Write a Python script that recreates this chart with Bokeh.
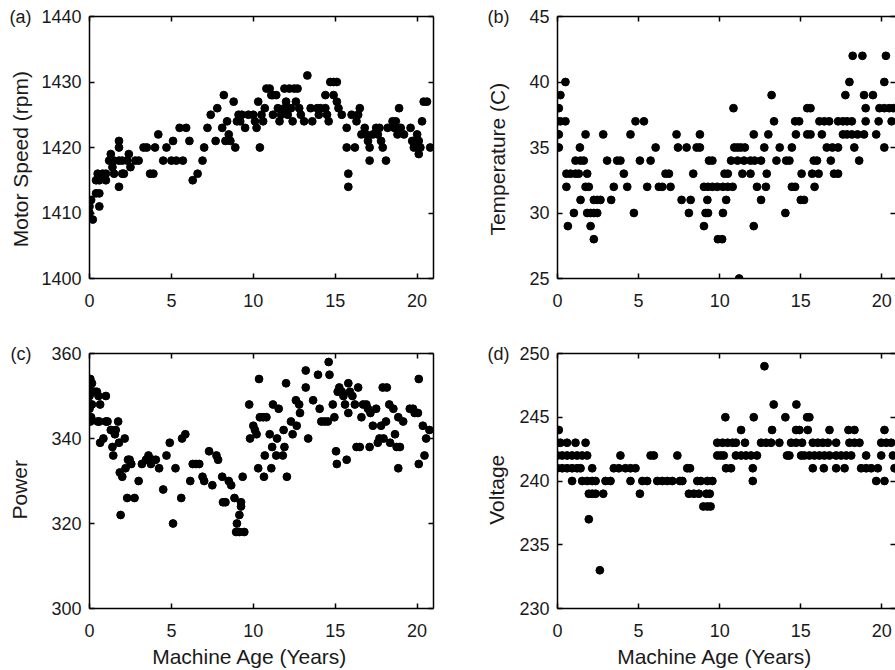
from bokeh.plotting import figure
from bokeh.models import LinearAxis, FixedTicker, ColumnDataSource, Range1d
from bokeh.layouts import column, row
from bokeh.embed import file_html
from bokeh.resources import INLINE

# ---------------- data ----------------
x_ticks = [0, 5, 10, 15, 20]
x_label = "Machine Age (Years)"

# (a) Motor speed
age_a = [0.0, 0.0, 0.1, 0.2, 0.4, 0.6, 0.6, 0.4, 0.6, 0.5, 0.8, 1.0, 1.0, 1.2, 1.5, 1.3, 1.4, 1.5,
         1.8, 1.8, 1.8, 1.8, 2.0, 2.0, 2.1, 2.3, 2.4, 2.5, 2.8, 3.0, 3.3, 3.5, 3.7, 3.9, 4.0, 4.2,
         4.5, 4.7, 5.0, 5.1, 5.3, 5.5, 5.7, 5.9, 6.1, 6.3, 6.6, 6.9, 7.0, 7.2, 7.4, 7.7, 7.8, 8.1,
         8.2, 8.3, 8.4, 8.5, 8.6, 8.8, 8.9, 9.0, 9.1, 9.2, 9.3, 9.5, 9.7, 10.0, 10.1, 10.2, 10.3,
         10.4, 10.5, 10.6, 10.7, 10.8, 11.0, 11.1, 11.2, 11.4, 11.2, 11.5, 11.6, 11.7, 11.9, 11.9,
         12.0, 12.1, 12.2, 12.3, 12.4, 12.5, 12.6, 12.7, 12.8, 12.9, 13.1, 13.3, 13.5, 13.6, 13.9,
         14.0, 14.1, 14.4, 14.4, 14.5, 14.6, 14.7, 14.9, 15.1, 14.9, 15.1, 15.2, 15.4, 15.7, 15.7,
         15.8, 15.8, 16.0, 16.2, 16.3, 16.4, 16.5, 16.6, 16.8, 16.9, 17.0, 17.1, 17.1, 17.3, 17.5,
         17.6, 17.7, 17.8, 17.9, 18.1, 18.2, 18.5, 18.6, 18.7, 18.8, 18.9, 19.0, 19.2, 19.6, 19.7,
         19.8, 20.0, 20.1, 20.1, 20.2, 20.3, 20.4, 20.6, 20.8]
speed_a = [1410, 1411, 1412, 1409, 1413, 1413, 1411, 1415, 1415, 1416, 1416, 1415, 1416, 1418, 1418,
           1419, 1417, 1416, 1421, 1420, 1418, 1414, 1418, 1416, 1416, 1418, 1419, 1417, 1418, 1418,
           1420, 1420, 1416, 1416, 1420, 1422, 1418, 1420, 1418, 1421, 1418, 1423, 1418, 1423, 1421,
           1415, 1416, 1418, 1420, 1423, 1425, 1421, 1426, 1423, 1428, 1421, 1424, 1422, 1421, 1427,
           1420, 1424, 1425, 1424, 1425, 1423, 1425, 1425, 1424, 1423, 1427, 1420, 1425, 1424, 1426,
           1429, 1429, 1428, 1428, 1428, 1425, 1426, 1424, 1425, 1426, 1429, 1427, 1425, 1429, 1426,
           1424, 1429, 1427, 1429, 1426, 1425, 1424, 1431, 1426, 1424, 1426, 1425, 1426, 1428, 1426,
           1425, 1424, 1430, 1430, 1430, 1428, 1427, 1426, 1425, 1423, 1420, 1416, 1414, 1425, 1420,
           1424, 1425, 1426, 1422, 1423, 1422, 1421, 1420, 1418, 1422, 1423, 1422, 1423, 1421, 1420,
           1418, 1423, 1424, 1423, 1424, 1422, 1426, 1423, 1422, 1423, 1421, 1420, 1422, 1421, 1419,
           1420, 1424, 1427, 1427, 1420]

# (b) Temperature
age_b = [0.49, 18.0, 20.15,
         18.2, 18.8, 20.25,
         0.18, 13.2, 17.75, 18.9, 19.45,
         0.08, 10.85, 15.4, 15.6, 19.0, 19.85, 20.15, 20.45, 20.7,
         0.0, 0.18, 0.49, 4.81, 5.33, 13.35, 14.65, 14.9, 16.15, 16.45, 16.75, 17.3, 17.6, 17.85,
         18.15, 19.0, 19.8, 20.6,
         0.0, 0.08, 1.73, 2.82, 4.5, 7.34, 8.78, 12.1, 13.0, 14.7, 15.4, 15.6, 16.3, 17.6, 17.85,
         18.15, 18.5, 18.9, 19.65,
         0.08, 1.38, 6.05, 7.43, 7.96, 8.58, 8.78, 10.9, 11.1, 11.3, 11.55, 12.75, 13.7, 14.45,
         16.6, 16.95, 17.3, 18.3, 20.15,
         1.11, 1.42, 1.62, 3.06, 3.68, 3.88, 5.08, 5.74, 9.34, 9.55, 10.7, 11.1, 11.5, 11.9, 12.15,
         12.55, 13.5, 14.1, 14.3, 15.8, 16.0, 16.85, 18.6,
         0.55, 0.8, 1.11, 1.31, 1.83, 4.09, 6.66, 6.87, 8.37, 10.3, 10.5, 11.4, 11.9, 12.9, 15.05,
         15.7, 16.1, 17.05, 17.3,
         0.55, 1.73, 1.93, 3.47, 4.3, 5.53, 6.25, 6.46, 6.97, 9.03, 9.28, 9.55, 9.85, 10.2, 10.5,
         10.8, 12.3, 12.85, 14.45, 14.65, 15.85,
         1.42, 2.24, 2.45, 2.65, 3.31, 7.65, 8.21, 9.24, 10.4, 12.55, 15.0, 15.2,
         1.01, 1.83, 2.04, 2.24, 2.45, 4.71, 8.1, 9.13, 9.28, 10.2, 14.05,
         0.64, 2.04, 9.03, 12.1,
         2.24, 9.89, 10.15,
         11.2]
temp_b = [40, 40, 40,
          42, 42, 42,
          39, 39, 39, 39, 39,
          38, 38, 38, 38, 38, 38, 38, 38, 38,
          37, 37, 37, 37, 37, 37, 37, 37, 37, 37, 37, 37, 37, 37,
          37, 37, 37, 37,
          36, 36, 36, 36, 36, 36, 36, 36, 36, 36, 36, 36, 36, 36, 36,
          36, 36, 36, 36,
          35, 35, 35, 35, 35, 35, 35, 35, 35, 35, 35, 35, 35, 35,
          35, 35, 35, 35, 35,
          34, 34, 34, 34, 34, 34, 34, 34, 34, 34, 34, 34, 34, 34, 34,
          34, 34, 34, 34, 34, 34, 34, 34,
          33, 33, 33, 33, 33, 33, 33, 33, 33, 33, 33, 33, 33, 33, 33,
          33, 33, 33, 33,
          32, 32, 32, 32, 32, 32, 32, 32, 32, 32, 32, 32, 32, 32, 32,
          32, 32, 32, 32, 32, 32,
          31, 31, 31, 31, 31, 31, 31, 31, 31, 31, 31, 31,
          30, 30, 30, 30, 30, 30, 30, 30, 30, 30, 30,
          29, 29, 29, 29,
          28, 28, 28,
          25]

# (c) Power
age_c = [0.0, 0.05, 0.15, 0.0, 0.0, 0.0, 0.0, 0.1, 0.05, 0.15, 0.3, 0.45, 0.5, 0.6, 0.65, 0.55, 1.0,
         0.65, 0.85, 1.0, 1.1, 1.3, 1.4, 1.45, 1.55, 1.6, 1.75, 1.8, 1.85, 1.9, 2.0, 2.15, 2.2, 2.3,
         2.35, 2.45, 2.55, 2.75, 3.0, 3.2, 3.45, 3.6, 3.75, 3.85, 4.05, 4.25, 4.5, 4.7, 4.9, 5.1,
         5.25, 5.6, 5.65, 5.85, 6.15, 6.3, 6.5, 6.7, 6.9, 7.0, 7.3, 7.5, 7.75, 7.85, 8.1, 8.15, 8.3,
         8.5, 8.65, 8.85, 9.0, 8.95, 9.15, 9.25, 9.25, 9.15, 9.35, 9.45, 9.75, 9.8, 10.0, 10.1, 10.2,
         10.3, 10.35, 10.4, 10.6, 10.7, 10.65, 10.8, 11.0, 11.1, 11.15, 11.2, 11.4, 11.45, 11.55,
         11.8, 11.85, 11.9, 12.0, 12.05, 12.3, 12.4, 12.6, 12.65, 12.8, 12.85, 13.2, 13.2, 13.35,
         13.65, 13.95, 14.05, 14.15, 14.35, 14.55, 14.6, 14.65, 14.85, 14.95, 15.05, 15.1, 15.15,
         15.25, 15.4, 15.5, 15.6, 15.7, 15.8, 15.8, 15.9, 16.05, 16.2, 16.3, 16.4, 16.5, 16.6, 16.7,
         16.9, 17.0, 17.1, 17.15, 17.3, 17.5, 17.6, 17.7, 17.8, 17.9, 17.95, 18.1, 18.15, 18.3,
         18.35, 18.55, 18.65, 18.75, 18.85, 18.85, 18.95, 19.15, 19.55, 19.75, 19.85, 20.05, 20.1,
         20.1, 20.35, 20.45, 20.55, 20.75]
power_c = [352, 354, 353, 350, 348, 347, 345, 345, 344, 348, 351, 351, 344, 344, 348, 350, 350,
           339, 340, 344, 344, 342, 338, 336, 341, 342, 344, 339, 332, 322, 331, 340, 333, 326,
           335, 335, 334, 326, 330, 334, 335, 336, 334, 335, 335, 333, 328, 336, 339, 320,
           333, 326, 340, 341, 330, 334, 334, 334, 331, 330, 337, 329, 336, 335, 331, 325, 325,
           330, 329, 326, 320, 318, 318, 324, 325, 322, 331, 318, 348, 340, 343, 342, 341,
           333, 354, 345, 345, 336, 331, 345, 341, 333, 338, 348, 336, 340, 347,
           336, 342, 338, 353, 331, 344, 341, 349, 343, 348, 346, 356, 352, 340,
           349, 355, 347, 344, 344, 344, 358, 355, 348, 345, 337, 334, 351,
           352, 351, 350, 348, 335, 353, 346, 351, 350, 348, 338, 352, 338, 345, 348,
           348, 347, 338, 346, 343, 347, 339, 340, 343, 352, 340, 344, 352, 348,
           339, 347, 341, 338, 345, 333, 338, 344, 347, 347, 346, 346, 354,
           334, 343, 336, 340, 342]

# (d) Voltage
age_d = [12.76,
         13.33, 14.73,
         10.35, 12.1, 14.05, 15.39, 15.53,
         0.08, 11.32, 13.23, 14.71, 14.92, 15.43, 16.77, 17.94, 18.31, 20.16,
         0.0, 0.18, 0.59, 1.11, 1.73, 9.85, 10.18, 10.49, 10.8, 11.0, 11.56, 12.55, 12.86, 13.17,
         13.68, 14.4, 14.71, 15.08, 15.74, 16.05, 16.36, 16.67, 17.18, 18.0, 18.31, 18.62, 19.96,
         20.27, 20.58,
         0.0, 0.29, 0.59, 0.9, 1.21, 1.52, 1.83, 3.88, 5.74, 5.94, 7.39, 9.85, 10.06, 10.25, 11.0,
         11.32, 11.62, 11.93, 12.3, 14.15, 14.3, 15.02, 15.22, 15.53, 15.84, 16.15, 16.46, 16.77,
         17.18, 17.49, 17.8, 18.11, 19.03, 19.96, 20.68,
         0.0, 0.29, 0.59, 0.9, 1.21, 1.42, 2.14, 3.47, 3.78, 4.19, 4.5, 4.81, 8.0, 8.17, 10.39,
         10.7, 12.04, 15.74, 16.42, 17.18, 17.7, 18.72, 19.03, 19.34, 19.75, 20.78,
         0.9, 1.52, 1.83, 2.14, 2.35, 2.96, 3.27, 4.5, 5.23, 5.53, 6.15, 6.46, 6.77, 7.08, 7.55,
         7.7, 8.62, 8.83, 9.24, 9.55, 12.04, 19.65, 20.16,
         1.93, 2.14, 2.35, 2.82, 5.08, 8.1, 8.41, 8.72, 9.18, 9.39,
         8.99, 9.24, 9.44,
         1.93,
         2.61]
volt_d = [249,
          246, 246,
          245, 245, 245, 245, 245,
          244, 244, 244, 244, 244, 244, 244, 244, 244, 244,
          243, 243, 243, 243, 243, 243, 243, 243, 243, 243, 243, 243, 243, 243,
          243, 243, 243, 243, 243, 243, 243, 243, 243, 243, 243, 243, 243,
          243, 243,
          242, 242, 242, 242, 242, 242, 242, 242, 242, 242, 242, 242, 242, 242, 242,
          242, 242, 242, 242, 242, 242, 242, 242, 242, 242, 242, 242, 242,
          242, 242, 242, 242, 242, 242, 242,
          241, 241, 241, 241, 241, 241, 241, 241, 241, 241, 241, 241, 241, 241, 241,
          241, 241, 241, 241, 241, 241, 241, 241, 241, 241, 241,
          240, 240, 240, 240, 240, 240, 240, 240, 240, 240, 240, 240, 240, 240, 240,
          240, 240, 240, 240, 240, 240, 240, 240,
          239, 239, 239, 239, 239, 239, 239, 239, 239, 239,
          238, 238, 238,
          237,
          233]

# ---------------- styling ----------------
FONT = "Liberation Sans"
TICK_SIZE = "18px"
LABEL_SIZE = "21px"
INK = "#1a1a1a"
NB = "\u00a0"


def style_axis(ax, show_labels=True, line=True):
    ax.major_tick_in = 5
    ax.major_tick_out = 0
    ax.minor_tick_line_color = None
    ax.major_tick_line_color = "black"
    ax.major_tick_line_width = 1.5
    ax.axis_line_color = "black" if line else None
    ax.axis_line_width = 1.5
    if show_labels:
        ax.major_label_text_font = FONT
        ax.major_label_text_font_size = TICK_SIZE
        ax.major_label_text_color = INK
    else:
        ax.major_label_text_font_size = "0px"
        ax.major_label_standoff = 0
        ax.major_label_text_color = None


def panel(xs, ys, width, height, mb_left, mb_right, mb_top, mb_bottom, x_end,
          y_lo, y_hi, y_ticks, y_label, y_pad, y_label_standoff, tag, gap,
          with_xlabel, right_line):
    p = figure(width=width, height=height, output_backend="svg", toolbar_location=None,
               x_range=Range1d(0, x_end), y_range=Range1d(y_lo, y_hi),
               min_border_left=mb_left, min_border_right=mb_right,
               min_border_top=mb_top, min_border_bottom=mb_bottom,
               background_fill_color="white", border_fill_color="white")
    p.outline_line_color = None
    p.xgrid.visible = False
    p.ygrid.visible = False

    src = ColumnDataSource(data=dict(x=xs, y=ys))
    p.scatter("x", "y", source=src, size=7.8, color="black", marker="circle")

    xa = p.xaxis[0]
    xa.ticker = FixedTicker(ticks=x_ticks)
    style_axis(xa)
    xa.major_label_standoff = 15
    if with_xlabel:
        # trailing no-break spaces nudge the centred title slightly left, as in the original
        xa.axis_label = x_label + NB * 4
        xa.axis_label_text_font = FONT
        xa.axis_label_text_font_size = LABEL_SIZE
        xa.axis_label_text_font_style = "normal"
        xa.axis_label_text_color = INK
        xa.axis_label_standoff = 5

    ya = p.yaxis[0]
    ya.ticker = FixedTicker(ticks=y_ticks)
    style_axis(ya)
    ya.major_label_standoff = 8
    # panel tag shares the line of the top tick label
    ya.major_label_overrides = {y_hi: tag + NB * gap + str(y_hi)}
    ya.axis_label = y_label + NB * y_pad
    ya.axis_label_text_font = FONT
    ya.axis_label_text_font_size = LABEL_SIZE
    ya.axis_label_text_font_style = "normal"
    ya.axis_label_text_color = INK
    ya.axis_label_standoff = y_label_standoff

    top = LinearAxis(ticker=FixedTicker(ticks=x_ticks))
    style_axis(top, show_labels=False)
    p.add_layout(top, "above")

    right = LinearAxis(ticker=FixedTicker(ticks=y_ticks))
    style_axis(right, show_labels=False, line=right_line)
    p.add_layout(right, "right")
    return p


pa = panel(age_a, speed_a, 453, 323, 89, 20, 16, 45, 21, 1400, 1440,
           [1400, 1410, 1420, 1430, 1440], "Motor Speed (rpm)", 4, -26, "(a)", 2, False, True)
pb = panel(age_b, temp_b, 442, 323, 104, 0, 16, 45, 20.84, 25, 45,
           [25, 30, 35, 40, 45], "Temperature (C)", 4, -25, "(b)", 4, False, False)
pc = panel(age_c, power_c, 453, 347, 89, 20, 30, 61, 21, 300, 360,
           [300, 320, 340, 360], "Power", 3, -24, "(c)", 4, True, True)
pd = panel(age_d, volt_d, 442, 347, 104, 0, 30, 61, 20.84, 230, 250,
           [230, 235, 240, 245, 250], "Voltage", 3, -24, "(d)", 2, True, False)

layout = column(row(pa, pb), row(pc, pd))
open("out.html", "w").write(file_html(layout, INLINE))
